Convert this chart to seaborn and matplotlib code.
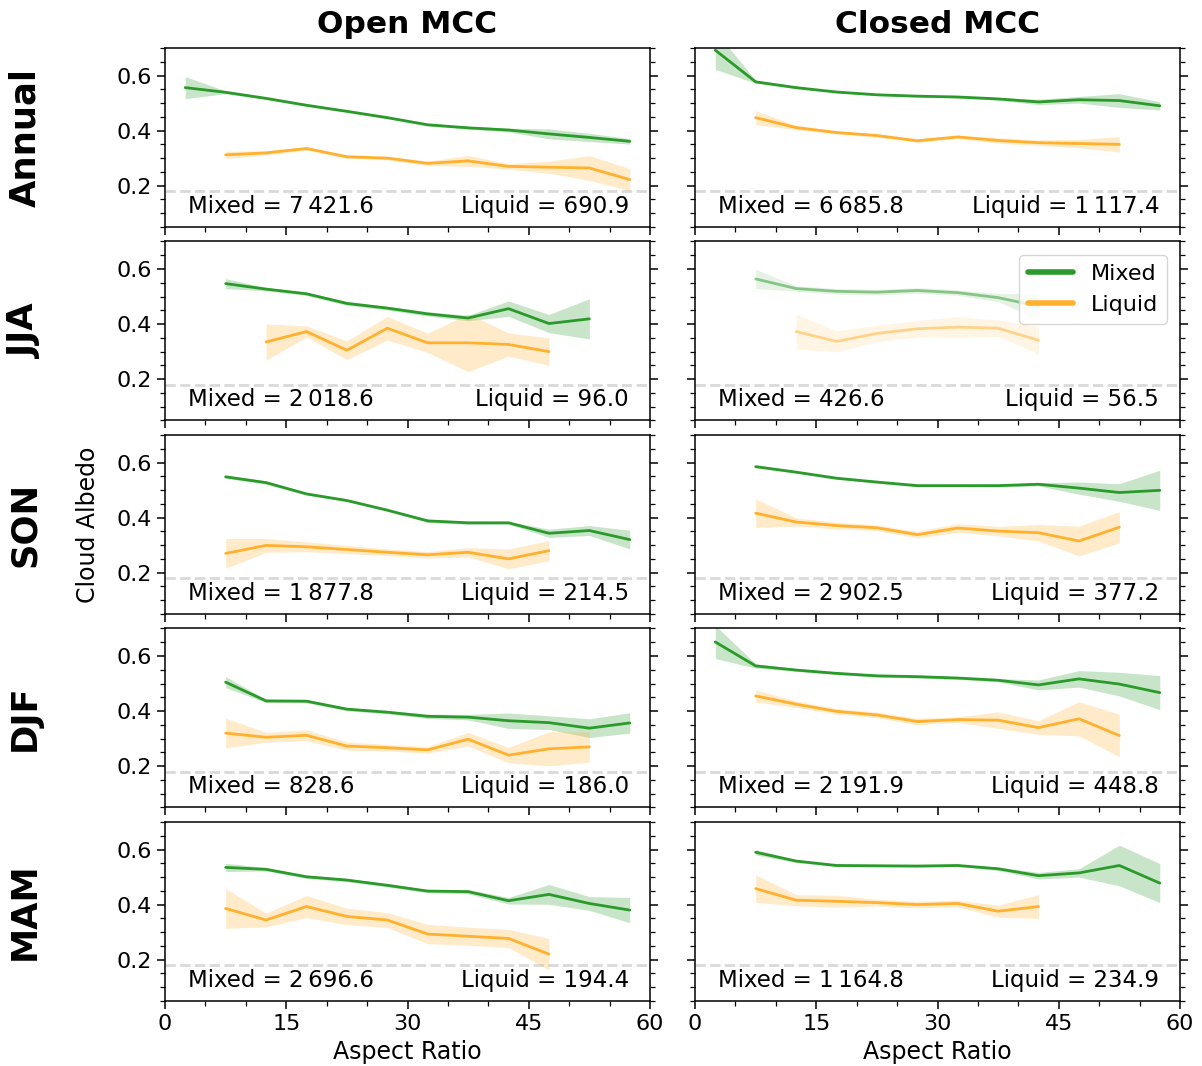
import numpy as np
import pandas as pd
import matplotlib
matplotlib.use("Agg")
import matplotlib.pyplot as plt
from matplotlib.lines import Line2D
from matplotlib.ticker import MultipleLocator
import seaborn as sns

n = np.nan

# Aspect-ratio bin centres
aspect_bins = [2.5, 7.5, 12.5, 17.5, 22.5, 27.5, 32.5, 37.5, 42.5, 47.5, 52.5, 57.5]

seasons = ["Annual", "JJA", "SON", "DJF", "MAM"]
regimes = ["Open MCC", "Closed MCC"]

# ---- Open MCC: mean cloud albedo and half-width of the shaded band ----
open_annual_mixed = [0.556, 0.539, 0.517, 0.492, 0.470, 0.447, 0.421, 0.410, 0.402, 0.388, 0.375, 0.361]
open_annual_mixed_err = [0.040, 0.005, 0.004, 0.004, 0.004, 0.004, 0.004, 0.005, 0.007, 0.018, 0.015, 0.010]
open_annual_liquid = [n, 0.312, 0.319, 0.335, 0.305, 0.300, 0.281, 0.290, 0.270, 0.267, 0.264, 0.222]
open_annual_liquid_err = [n, 0.013, 0.008, 0.006, 0.006, 0.006, 0.008, 0.020, 0.010, 0.022, 0.045, 0.040]

open_jja_mixed = [n, 0.547, 0.527, 0.510, 0.475, 0.458, 0.437, 0.422, 0.456, 0.402, 0.419, n]
open_jja_mixed_err = [n, 0.018, 0.006, 0.006, 0.007, 0.007, 0.008, 0.010, 0.028, 0.033, 0.073, n]
open_jja_liquid = [n, n, 0.335, 0.373, 0.305, 0.385, 0.332, 0.332, 0.326, 0.300, n, n]
open_jja_liquid_err = [n, n, 0.066, 0.020, 0.034, 0.043, 0.035, 0.105, 0.042, 0.050, n, n]

open_son_mixed = [n, 0.548, 0.527, 0.486, 0.462, 0.427, 0.388, 0.381, 0.381, 0.343, 0.353, 0.320]
open_son_mixed_err = [n, 0.006, 0.006, 0.004, 0.004, 0.004, 0.006, 0.006, 0.005, 0.015, 0.018, 0.034]
open_son_liquid = [n, 0.270, 0.299, 0.294, 0.284, 0.274, 0.265, 0.274, 0.250, 0.280, n, n]
open_son_liquid_err = [n, 0.054, 0.025, 0.018, 0.015, 0.012, 0.012, 0.017, 0.036, 0.037, n, n]

open_djf_mixed = [n, 0.505, 0.437, 0.436, 0.407, 0.396, 0.381, 0.378, 0.365, 0.358, 0.338, 0.357]
open_djf_mixed_err = [n, 0.020, 0.006, 0.006, 0.006, 0.006, 0.008, 0.010, 0.028, 0.025, 0.034, 0.037]
open_djf_liquid = [n, 0.320, 0.305, 0.312, 0.273, 0.267, 0.259, 0.298, 0.240, 0.263, 0.270, n]
open_djf_liquid_err = [n, 0.054, 0.018, 0.020, 0.015, 0.012, 0.012, 0.025, 0.028, 0.062, 0.055, n]

open_mam_mixed = [n, 0.535, 0.528, 0.501, 0.489, 0.470, 0.449, 0.447, 0.414, 0.437, 0.404, 0.380]
open_mam_mixed_err = [n, 0.015, 0.006, 0.006, 0.006, 0.006, 0.006, 0.008, 0.012, 0.036, 0.025, 0.046]
open_mam_liquid = [n, 0.386, 0.344, 0.393, 0.357, 0.344, 0.293, 0.285, 0.277, 0.220, n, n]
open_mam_liquid_err = [n, 0.072, 0.025, 0.040, 0.030, 0.027, 0.035, 0.033, 0.033, 0.057, n, n]

# ---- Closed MCC ----
closed_annual_mixed = [0.692, 0.577, 0.556, 0.540, 0.530, 0.525, 0.522, 0.515, 0.504, 0.512, 0.509, 0.490]
closed_annual_mixed_err = [0.070, 0.005, 0.004, 0.003, 0.003, 0.003, 0.004, 0.005, 0.010, 0.012, 0.025, 0.015]
closed_annual_liquid = [n, 0.447, 0.411, 0.393, 0.382, 0.363, 0.377, 0.364, 0.356, 0.353, 0.350, n]
closed_annual_liquid_err = [n, 0.025, 0.008, 0.006, 0.006, 0.006, 0.006, 0.010, 0.010, 0.015, 0.028, n]

closed_jja_mixed = [n, 0.564, 0.529, 0.519, 0.516, 0.522, 0.514, 0.496, 0.465, n, n, n]
closed_jja_mixed_err = [n, 0.035, 0.010, 0.010, 0.010, 0.010, 0.010, 0.015, 0.046, n, n, n]
closed_jja_liquid = [n, n, 0.373, 0.337, 0.366, 0.383, 0.389, 0.385, 0.341, n, n, n]
closed_jja_liquid_err = [n, n, 0.063, 0.038, 0.030, 0.030, 0.038, 0.030, 0.049, n, n, n]

closed_son_mixed = [n, 0.585, 0.565, 0.543, 0.529, 0.516, 0.516, 0.516, 0.521, 0.507, 0.491, 0.499]
closed_son_mixed_err = [n, 0.004, 0.004, 0.004, 0.004, 0.004, 0.004, 0.005, 0.006, 0.022, 0.032, 0.073]
closed_son_liquid = [n, 0.416, 0.384, 0.371, 0.363, 0.338, 0.362, 0.351, 0.345, 0.315, 0.365, n]
closed_son_liquid_err = [n, 0.052, 0.015, 0.012, 0.010, 0.012, 0.016, 0.017, 0.030, 0.054, 0.057, n]

closed_djf_mixed = [0.651, 0.564, 0.549, 0.537, 0.528, 0.525, 0.520, 0.512, 0.495, 0.517, 0.498, 0.467]
closed_djf_mixed_err = [0.060, 0.008, 0.005, 0.005, 0.005, 0.005, 0.005, 0.006, 0.018, 0.030, 0.043, 0.062]
closed_djf_liquid = [n, 0.455, 0.425, 0.399, 0.386, 0.362, 0.369, 0.367, 0.340, 0.372, 0.311, n]
closed_djf_liquid_err = [n, 0.022, 0.012, 0.010, 0.010, 0.012, 0.010, 0.030, 0.025, 0.062, 0.077, n]

closed_mam_mixed = [n, 0.590, 0.558, 0.542, 0.541, 0.540, 0.542, 0.530, 0.505, 0.515, 0.542, 0.478]
closed_mam_mixed_err = [n, 0.010, 0.005, 0.004, 0.004, 0.004, 0.004, 0.006, 0.012, 0.015, 0.074, 0.071]
closed_mam_liquid = [n, 0.458, 0.416, 0.412, 0.407, 0.400, 0.404, 0.376, 0.393, n, n, n]
closed_mam_liquid_err = [n, 0.050, 0.020, 0.022, 0.012, 0.012, 0.012, 0.022, 0.043, n, n, n]

# Sample counts per season (Mixed, Liquid)
open_mixed_counts = [7421.6, 2018.6, 1877.8, 828.6, 2696.6]
open_liquid_counts = [690.9, 96.0, 214.5, 186.0, 194.4]
closed_mixed_counts = [6685.8, 426.6, 2902.5, 2191.9, 1164.8]
closed_liquid_counts = [1117.4, 56.5, 377.2, 448.8, 234.9]

threshold_albedo = 0.18

MIXED_COLOR = "#2a9a2a"
LIQUID_COLOR = "#ffb12e"

panel_series = {
    ("Open MCC", "Annual"): (open_annual_mixed, open_annual_mixed_err, open_annual_liquid, open_annual_liquid_err),
    ("Open MCC", "JJA"): (open_jja_mixed, open_jja_mixed_err, open_jja_liquid, open_jja_liquid_err),
    ("Open MCC", "SON"): (open_son_mixed, open_son_mixed_err, open_son_liquid, open_son_liquid_err),
    ("Open MCC", "DJF"): (open_djf_mixed, open_djf_mixed_err, open_djf_liquid, open_djf_liquid_err),
    ("Open MCC", "MAM"): (open_mam_mixed, open_mam_mixed_err, open_mam_liquid, open_mam_liquid_err),
    ("Closed MCC", "Annual"): (closed_annual_mixed, closed_annual_mixed_err, closed_annual_liquid, closed_annual_liquid_err),
    ("Closed MCC", "JJA"): (closed_jja_mixed, closed_jja_mixed_err, closed_jja_liquid, closed_jja_liquid_err),
    ("Closed MCC", "SON"): (closed_son_mixed, closed_son_mixed_err, closed_son_liquid, closed_son_liquid_err),
    ("Closed MCC", "DJF"): (closed_djf_mixed, closed_djf_mixed_err, closed_djf_liquid, closed_djf_liquid_err),
    ("Closed MCC", "MAM"): (closed_mam_mixed, closed_mam_mixed_err, closed_mam_liquid, closed_mam_liquid_err),
}
panel_counts = {
    "Open MCC": (open_mixed_counts, open_liquid_counts),
    "Closed MCC": (closed_mixed_counts, closed_liquid_counts),
}


def fmt_count(v):
    return f"{v:,.1f}".replace(",", "\u2009")


sns.set_theme(style="ticks")
plt.rcParams["font.family"] = ["DejaVu Sans"]
plt.rcParams.update({
    "text.color": "black",
    "axes.labelcolor": "black",
    "xtick.color": "black",
    "ytick.color": "black",
    "axes.edgecolor": "black",
})

fig, axes = plt.subplots(5, 2, figsize=(12.02, 10.66), dpi=100, sharex=True, sharey=True)
fig.subplots_adjust(left=0.1373, right=0.9817, top=0.955, bottom=0.061,
                    wspace=0.093, hspace=0.081)

for c, regime in enumerate(regimes):
    mixed_counts, liquid_counts = panel_counts[regime]
    for r, season in enumerate(seasons):
        ax = axes[r, c]
        mix, mix_err, liq, liq_err = panel_series[(regime, season)]
        faded = (regime == "Closed MCC" and season == "JJA")
        line_alpha = 0.5 if faded else 1.0
        band_alpha = 0.12 if faded else 0.25

        df = pd.DataFrame({
            "aspect": aspect_bins,
            "mixed": mix, "mixed_err": mix_err,
            "liquid": liq, "liquid_err": liq_err,
        })
        for key, color in (("mixed", MIXED_COLOR), ("liquid", LIQUID_COLOR)):
            sub = df[["aspect", key, key + "_err"]].dropna()
            ax.fill_between(sub["aspect"], sub[key] - sub[key + "_err"],
                            sub[key] + sub[key + "_err"], color=color,
                            alpha=band_alpha, linewidth=0)
            sns.lineplot(data=sub, x="aspect", y=key, ax=ax, color=color,
                         lw=2, alpha=line_alpha)

        ax.axhline(threshold_albedo, color="#d9d9d9", ls="--", lw=2, zorder=0)

        ax.text(0.047, 0.115, f"Mixed = {fmt_count(mixed_counts[r])}",
                transform=ax.transAxes, ha="left", va="center", fontsize=16.5,
                color="black")
        ax.text(0.957, 0.115, f"Liquid = {fmt_count(liquid_counts[r])}",
                transform=ax.transAxes, ha="right", va="center", fontsize=16.5,
                color="black")

        ax.set_xlim(0, 60)
        ax.set_ylim(0.05, 0.7)
        ax.xaxis.set_major_locator(MultipleLocator(15))
        ax.xaxis.set_minor_locator(MultipleLocator(5))
        ax.yaxis.set_major_locator(MultipleLocator(0.2))
        ax.yaxis.set_minor_locator(MultipleLocator(0.05))
        ax.tick_params(axis="both", which="both", direction="out", colors="black",
                       labelcolor="black", labelsize=16)
        ax.tick_params(axis="y", which="both", left=True, right=True)
        ax.tick_params(axis="x", which="both", bottom=True, top=False)
        ax.tick_params(which="major", length=6, width=1.1)
        ax.tick_params(which="minor", length=3.5, width=0.9)
        ax.set_xlabel("")
        ax.set_ylabel("")
        for sp in ax.spines.values():
            sp.set_visible(True)
            sp.set_linewidth(1.1)
            sp.set_color("black")

        if r == len(seasons) - 1:
            ax.set_xlabel("Aspect Ratio", fontsize=17, color="black")

        if faded:
            handles = [Line2D([0], [0], color=MIXED_COLOR, lw=4),
                       Line2D([0], [0], color=LIQUID_COLOR, lw=4)]
            leg = ax.legend(handles, ["Mixed", "Liquid"], loc="upper right",
                            fontsize=16, handlelength=2.0, frameon=True,
                            framealpha=0.8, edgecolor="#cccccc",
                            borderaxespad=0.6)
            for t in leg.get_texts():
                t.set_color("black")

for c, regime in enumerate(regimes):
    pos = axes[0, c].get_position()
    fig.text((pos.x0 + pos.x1) / 2, 0.977, regime, ha="center", va="center",
             fontsize=22.5, fontweight="bold", color="black")

for r, season in enumerate(seasons):
    pos = axes[r, 0].get_position()
    fig.text(0.021, (pos.y0 + pos.y1) / 2, season, ha="center", va="center",
             rotation=90, fontsize=25.5, fontweight="bold", color="black")

pos = axes[2, 0].get_position()
fig.text(0.073, (pos.y0 + pos.y1) / 2, "Cloud Albedo", ha="center", va="center",
         rotation=90, fontsize=17, color="black")

fig.savefig("out.png", dpi=100, facecolor="white")
